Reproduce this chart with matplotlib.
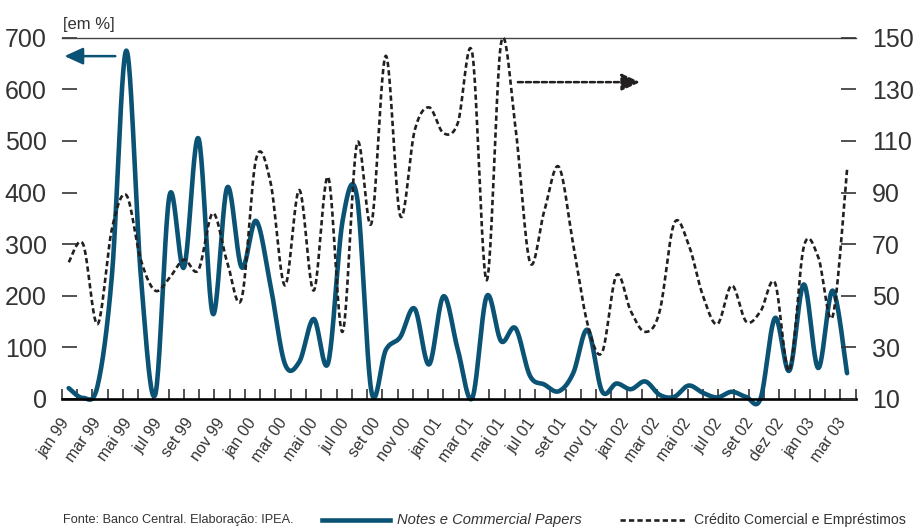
import numpy as np
import matplotlib.pyplot as plt
import matplotlib.transforms as mtransforms
from matplotlib.lines import Line2D

plt.rcParams['font.family'] = ['Liberation Sans', 'DejaVu Sans']

# Axis labels (every other month)
months = ["jan 99", "mar 99", "mai 99", "jul 99", "set 99", "nov 99",
          "jan 00", "mar 00", "mai 00", "jul 00", "set 00", "nov 00",
          "jan 01", "mar 01", "mai 01", "jul 01", "set 01", "nov 01",
          "jan 02", "mar 02", "mai 02", "jul 02", "set 02", "dez 02",
          "jan 03", "mar 03"]

# Notes e Commercial Papers (left scale, %)
notes = [21, 2, 25, 240, 675, 240, 8, 395, 255, 505,
         165, 410, 255, 345, 220, 68, 72, 155, 70, 345,
         392, 15, 95, 120, 175, 67, 199, 95, 2, 199,
         112, 137, 45, 28, 15, 50, 134, 15, 30, 19,
         34, 8, 4, 26, 12, 3, 14, 4, 1, 157,
         55, 222, 60, 210, 50]

# Credito Comercial e Emprestimos (right scale, %)
credito = [63, 70, 39, 76, 89, 64, 52, 57, 64, 60,
           82, 63, 49, 103, 94, 54, 91, 52, 96, 36,
           109, 78, 143, 81, 114, 123, 113, 117, 144, 56,
           148, 115, 63, 83, 100, 70, 39, 28, 58, 44,
           36, 44, 78, 70, 50, 39, 54, 40, 44, 55,
           21, 69, 65, 42, 99]

teal = '#0b5375'
ink = '#231f20'
grey = '#333333'
dash = (0, (2.0, 1.2))


def smooth(x, y, steps=24):
    # bezier "smoothed line": control points from neighbouring points
    p = np.column_stack([x, y]).astype(float)
    p = np.vstack([p[0], p, p[-1]])
    t = np.linspace(0, 1, steps, endpoint=False)[:, None]
    out = []
    for i in range(1, len(p) - 2):
        p0, p1, p2, p3 = p[i - 1], p[i], p[i + 1], p[i + 2]
        c1 = p1 + (p2 - p0) / 6
        c2 = p2 - (p3 - p1) / 6
        out.append((1 - t) ** 3 * p1 + 3 * (1 - t) ** 2 * t * c1
                   + 3 * (1 - t) * t ** 2 * c2 + t ** 3 * p2)
    out.append(p[-2][None, :])
    pts = np.vstack(out)
    return pts[:, 0], pts[:, 1]


pos = 0.458 + 0.944 * np.arange(len(notes))

fig = plt.figure(figsize=(9.18, 5.31), dpi=100)
ax = fig.add_axes([61.7 / 918, 1 - 399 / 531, 794 / 918, 361.3 / 531])
ax2 = ax.twinx()

sx, sy = smooth(pos, notes)
ax.plot(sx, sy, color=teal, lw=3.3, solid_capstyle='round', clip_on=False)
cx, cy = smooth(pos, credito)
ax2.plot(cx, cy, color=ink, lw=1.9, linestyle=dash, clip_on=False)

ax.set_xlim(0, 52)
ax.set_ylim(0, 700)
ax2.set_ylim(10, 150)

ax.set_xticks(np.arange(0, 53), minor=True)
ax.set_xticks(0.5 + 2.035 * np.arange(len(months)))
ax.set_xticklabels(months, rotation=55, ha='right', va='top',
                   rotation_mode='anchor', fontsize=11.5, color=grey)
ax.tick_params(axis='x', which='major', length=0, pad=12)
ax.tick_params(axis='x', which='minor', direction='in', length=7.5,
               width=1.2, color=grey)
# pull the slanted labels left so they end at their month
shift = mtransforms.ScaledTranslation(-0.09, 0, fig.dpi_scale_trans)
for lab in ax.get_xticklabels():
    lab.set_transform(lab.get_transform() + shift)

ax.set_yticks(range(0, 701, 100))
ax.tick_params(axis='y', direction='in', length=11, width=1.2, color=grey,
               pad=10.8, labelsize=18, labelcolor=grey)
ax2.set_yticks(range(10, 151, 20))
ax2.tick_params(axis='y', direction='in', length=11, width=1.2, color=grey,
                pad=11.5, labelsize=18, labelcolor=grey)

for s in ['left', 'right']:
    ax.spines[s].set_visible(False)
for s in ax2.spines.values():
    s.set_visible(False)
ax.spines['top'].set_color('#444444')
ax.spines['top'].set_linewidth(1.0)
ax.spines['bottom'].set_color('black')
ax.spines['bottom'].set_linewidth(1.9)

# scale arrows
ax.annotate('', xy=(0.0, 0.949), xytext=(0.071, 0.949), xycoords='axes fraction',
            arrowprops=dict(arrowstyle='-|>,head_length=0.7,head_width=0.32',
                            color=teal, lw=1.8, mutation_scale=16))
ax.annotate('', xy=(0.732, 0.877), xytext=(0.571, 0.877), xycoords='axes fraction',
            arrowprops=dict(arrowstyle='-|>,head_length=0.7,head_width=0.32',
                            color=ink, lw=1.8, linestyle=dash, mutation_scale=16))

fig.text(63 / 918, 1 - 25 / 531, '[em %]', fontsize=12, color=grey, va='center')

# legend and source line
ly = 1 - 520 / 531
fig.text(63 / 918, ly, 'Fonte: Banco Central. Elaboração: IPEA.',
         fontsize=9.2, color=grey, va='center')
fig.add_artist(Line2D([322 / 918, 390 / 918], [ly, ly], color=teal, lw=3.3))
fig.text(397 / 918, ly, 'Notes e Commercial Papers', fontsize=10.6,
         style='italic', color=grey, va='center')
fig.add_artist(Line2D([620 / 918, 685 / 918], [ly, ly], color=ink, lw=1.9,
                      linestyle=dash))
fig.text(694 / 918, ly, 'Crédito Comercial e Empréstimos', fontsize=10.2,
         color=grey, va='center')

fig.savefig('out.png', dpi=100)
